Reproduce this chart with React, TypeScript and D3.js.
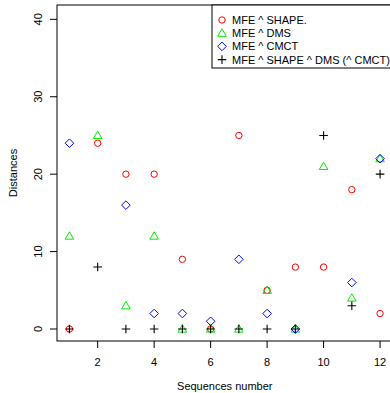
import React from "react";
import * as d3 from "d3";

const sequences = [1, 2, 3, 4, 5, 6, 7, 8, 9, 10, 11, 12];
const mfeShape: (number | null)[] = [0, 24, 20, 20, 9, 0, 25, 5, 8, 8, 18, 2];
const mfeDms: (number | null)[] = [12, 25, 3, 12, 0, 0, 0, 5, 0, 21, 4, 22];
const mfeCmct: (number | null)[] = [24, null, 16, 2, 2, 1, 9, 2, 0, null, 6, 22];
const mfeAll: (number | null)[] = [0, 8, 0, 0, 0, 0, 0, 0, 0, 25, 3, 20];
const xTicks = [2, 4, 6, 8, 10, 12];
const yTicks = [0, 10, 20, 30, 40];
const legendLabels = [
  "MFE ^ SHAPE.",
  "MFE ^ DMS",
  "MFE ^ CMCT",
  "MFE ^ SHAPE ^ DMS (^ CMCT)",
];

const W = 390;
const H = 393;
const left = 57;
const right = 392.5;
const top = 5;
const bottom = 341;
const font = "'Liberation Sans', Arial, Helvetica, sans-serif";

const x = d3.scaleLinear().domain([0.56, 12.44]).range([left, right]);
const y = d3.scaleLinear().domain([-1.55, 41.85]).range([bottom, top]);

type Shape = "circle" | "triangle" | "diamond" | "plus";

function Marker({ shape, cx, cy, color }: { shape: Shape; cx: number; cy: number; color: string }) {
  if (shape === "circle") return <circle cx={cx} cy={cy} r={3.2} fill="none" stroke={color} strokeWidth={1} />;
  if (shape === "triangle") {
    const s = 4.3;
    const p = d3.path();
    p.moveTo(cx, cy - s);
    p.lineTo(cx + s, cy + s * 0.72);
    p.lineTo(cx - s, cy + s * 0.72);
    p.closePath();
    return <path d={p.toString()} fill="none" stroke={color} strokeWidth={1} />;
  }
  if (shape === "diamond") {
    const s = 4.3;
    const p = d3.path();
    p.moveTo(cx, cy - s);
    p.lineTo(cx + s, cy);
    p.lineTo(cx, cy + s);
    p.lineTo(cx - s, cy);
    p.closePath();
    return <path d={p.toString()} fill="none" stroke={color} strokeWidth={1} />;
  }
  const s = 4.3;
  return (
    <path
      d={`M${cx - s},${cy}H${cx + s}M${cx},${cy - s}V${cy + s}`}
      stroke={color}
      strokeWidth={1.1}
      fill="none"
    />
  );
}

const series: { values: (number | null)[]; shape: Shape; color: string }[] = [
  { values: mfeShape, shape: "circle", color: "#ff0000" },
  { values: mfeDms, shape: "triangle", color: "#00ee00" },
  { values: mfeCmct, shape: "diamond", color: "#0000ff" },
  { values: mfeAll, shape: "plus", color: "#000000" },
];

export default function App() {
  return (
    <svg
      width={W}
      height={H}
      style={{ position: "absolute", left: 0, top: 0, background: "#fff" }}
      fontFamily={font}
    >
      <rect x={0} y={0} width={W} height={H} fill="#fff" />
      {series.map((s, si) =>
        s.values.map((v, i) =>
          v === null ? null : (
            <Marker key={`${si}-${i}`} shape={s.shape} cx={x(sequences[i])} cy={y(v)} color={s.color} />
          )
        )
      )}
      <rect x={left} y={top} width={right - left} height={bottom - top} fill="none" stroke="#000" strokeWidth={1} />
      {xTicks.map((t) => (
        <g key={`x${t}`}>
          <line x1={x(t)} x2={x(t)} y1={bottom} y2={bottom + 7} stroke="#000" />
          <text x={x(t)} y={bottom + 25} fontSize={11} textAnchor="middle">
            {t}
          </text>
        </g>
      ))}
      {yTicks.map((t) => (
        <g key={`y${t}`}>
          <line x1={left - 7} x2={left} y1={y(t)} y2={y(t)} stroke="#000" />
          <text
            transform={`translate(${left - 15},${y(t)}) rotate(-90)`}
            fontSize={11}
            textAnchor="middle"
          >
            {t}
          </text>
        </g>
      ))}
      <text x={(left + right) / 2} y={390} fontSize={11} textAnchor="middle">
        Sequences number
      </text>
      <text transform={`translate(17,${(top + bottom) / 2}) rotate(-90)`} fontSize={11} textAnchor="middle">
        Distances
      </text>
      <rect x={212} y={top} width={200} height={63} fill="#fff" stroke="#000" strokeWidth={1} />
      {legendLabels.map((lab, i) => (
        <g key={lab}>
          <Marker shape={series[i].shape} cx={222} cy={20 + i * 13.2} color={series[i].color} />
          <text x={232} y={20 + i * 13.2 + 4} fontSize={11}>
            {lab}
          </text>
        </g>
      ))}
    </svg>
  );
}
